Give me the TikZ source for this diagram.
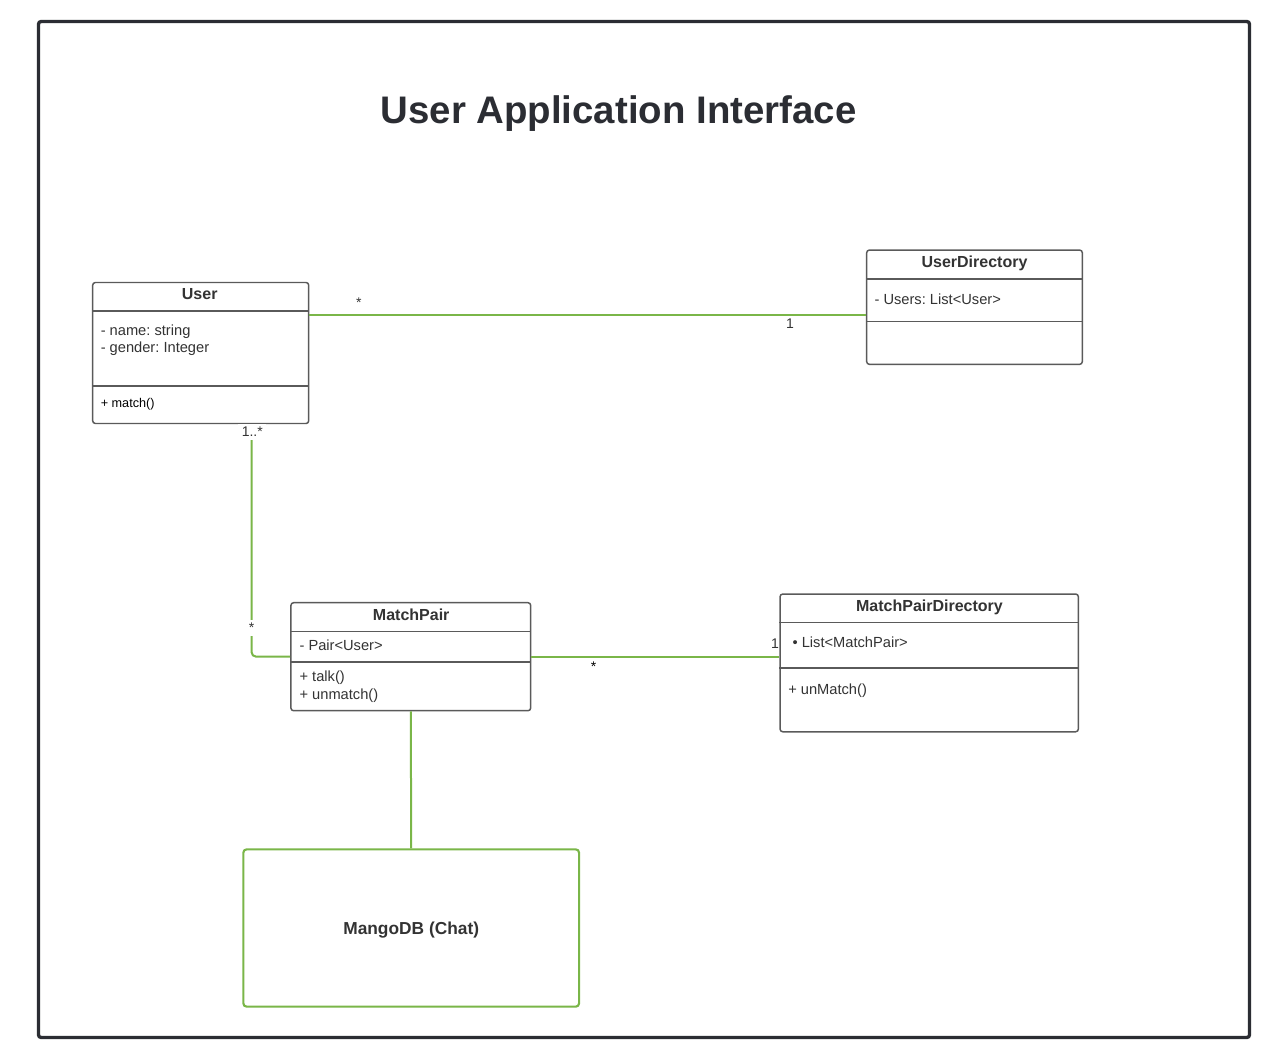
\documentclass[tikz,border=0pt]{standalone}
\usepackage{fontspec}
\setmainfont{Liberation Sans}
\usepackage{tikz}
\frenchspacing

\definecolor{framec}{HTML}{2B2D33}
\definecolor{boxc}{HTML}{5A5A5A}
\definecolor{txt}{HTML}{333333}
\definecolor{linkc}{HTML}{7AB648}

\begin{document}
\begin{tikzpicture}[x=0.75pt, y=-0.75pt,
  cls/.style = {draw=boxc, line width=1.1pt, rounded corners=2pt, fill=white, inner sep=0pt},
  store/.style = {draw=linkc, line width=1.6pt, rounded corners=2.5pt, inner sep=0pt},
  div/.style = {draw=boxc, line width=1.1pt},
  head/.style = {anchor=base, inner sep=0pt, text=txt, font=\fontsize{12}{14}\selectfont\bfseries},
  attr/.style = {anchor=base west, inner sep=0pt, text=txt, font=\fontsize{11}{13}\selectfont},
  assoc/.style = {draw=linkc, line width=1.5pt},
  lbl/.style = {anchor=base, inner sep=2.5pt, text=txt, font=\fontsize{10.5}{12}\selectfont}]
\useasboundingbox (0,0) rectangle (1274,1056);

% frame and title
\draw[framec, line width=2.5pt, rounded corners=2pt] (38.5,21.5) rectangle (1249.5,1037.5);
\node[anchor=base, inner sep=0pt, text=framec, font=\fontsize{28.8}{34}\selectfont\bfseries] (title) at (618.5,123) {User Application Interface};

% classes
\node[cls, minimum width=162pt, minimum height=105.75pt] (user) at (200.7,353) {};
\node[cls, minimum width=161.7pt, minimum height=85.7pt] (ud) at (974.5,307.2) {};
\node[cls, minimum width=179.8pt, minimum height=81pt] (mp) at (410.8,656.7) {};
\node[cls, minimum width=223.7pt, minimum height=103.3pt] (mpd) at (929.2,662.9) {};
\node[store, minimum width=251.8pt, minimum height=118pt] (mango) at (411.2,928) {};

\draw[div] (user.west |- 0,311) -- (user.east |- 0,311);
\draw[div] (user.west |- 0,386) -- (user.east |- 0,386);
\draw[div] (ud.west |- 0,279) -- (ud.east |- 0,279);
\draw[div] (ud.west |- 0,321.5) -- (ud.east |- 0,321.5);
\draw[div] (mp.west |- 0,631.5) -- (mp.east |- 0,631.5);
\draw[div] (mp.west |- 0,662) -- (mp.east |- 0,662);
\draw[div] (mpd.west |- 0,622.7) -- (mpd.east |- 0,622.7);
\draw[div] (mpd.west |- 0,668) -- (mpd.east |- 0,668);

% texts
\node[head] (userT) at (199.7,299.3) {User};
\node[attr] (userA1) at (100.5,335) {- name: string};
\node[attr] (userA2) at (100.5,352) {- gender: Integer};
\node[attr, text=black, font=\fontsize{9.5}{11}\selectfont] (userM) at (100.5,407.7) {+ match()};

\node[head] (udT) at (974.5,267.3) {UserDirectory};
\node[attr] (udA) at (874.3,304) {- Users: List<User>};

\node[head] (mpT) at (411.2,620) {MatchPair};
\node[attr] (mpA) at (299.3,650) {- Pair<User>};
\node[attr] (mpM1) at (299.3,681.7) {+ talk()};
\node[attr] (mpM2) at (299.3,699.3) {+ unmatch()};

\node[head] (mpdT) at (929.5,611.7) {MatchPairDirectory};
\node[attr] (mpdA) at (792.3,647.7) {• List<MatchPair>};
\node[attr] (mpdM) at (788,694) {+ unMatch()};

\node[head, font=\fontsize{13}{15}\selectfont\bfseries] (mangoT) at (411.2,934) {MangoDB (Chat)};

% links
\draw[assoc] (user.east |- 0,314.5) -- (ud.west |- 0,314.5);
\draw[assoc, rounded corners=3pt] (user.south -| 251.7,0) |- (mp.west |- 0,656.5);
\draw[assoc] (mp.east |- 0,656.5) -- (mpd.west |- 0,656.5);
\draw[assoc] (mp.south) -- (mango.north);

% multiplicities
\node[lbl] (m1) at (358.8,307.5) {*};
\node[lbl] (m2) at (790,328.3) {1};
\node[lbl, fill=white] (m3) at (252.3,436.7) {1..*};
\node[lbl, fill=white] (m4) at (251.7,632.8) {*};
\node[lbl, text=black] (m5) at (593.5,671.5) {*};
\node[lbl, inner sep=0pt] (m6) at (775,648.3) {1};

\end{tikzpicture}
\end{document}
